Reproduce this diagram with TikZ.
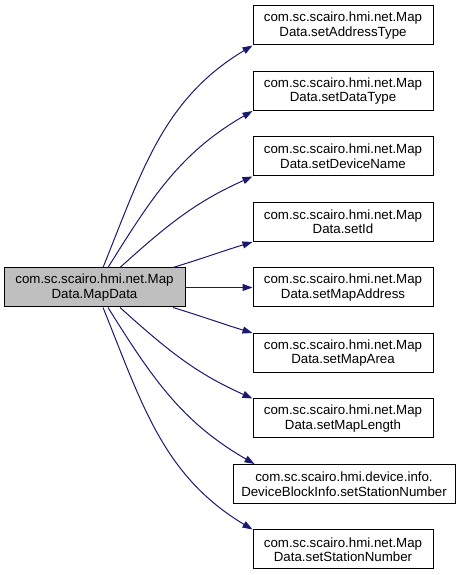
\documentclass[tikz,border=0pt]{standalone}
\usepackage{fontspec}
\setmainfont{Liberation Sans}
\usetikzlibrary{arrows.meta}

\tikzset{
  fnbox/.style={draw=black, fill=white, line width=1pt, minimum width=180pt,
    minimum height=39pt, inner sep=0pt, align=center,
    font=\fontsize{13.3}{14.5}\selectfont},
  callee/.style={draw=edgeColour, line width=1pt,
    -{Triangle[length=10pt,width=7pt,fill=edgeColour]}}
}

\begin{document}
\begin{tikzpicture}[x=1pt, y=1pt]
    % Colours and row spacing
    \definecolor{edgeColour}{HTML}{191970}
    \definecolor{mainFill}{HTML}{BFBFBF}
    \def\rowGap{65.5}

    \useasboundingbox (0,0) rectangle (460,575);

    % Caller
    \node[fnbox, fill=mainFill, minimum width=181pt] (main) at (94.5,287.5)
        {com.sc.scairo.hmi.net.Map\\Data.MapData};

    % Callees of MapData
    \foreach \name/\i/\method in {addr/0/setAddressType, dtype/1/setDataType,
        dname/2/setDeviceName, setid/3/setId, maddr/4/setMapAddress,
        marea/5/setMapArea, mlen/6/setMapLength, stanum/8/setStationNumber}
        \node[fnbox] (\name) at (343,549.5-\i*\rowGap)
            {com.sc.scairo.hmi.net.Map\\Data.\method};

    \node[fnbox, minimum width=222pt] (devsta) at (344,549.5-7*\rowGap)
        {com.sc.scairo.hmi.device.info.\\DeviceBlockInfo.setStationNumber};

    % Upper calls
    \draw[callee] ([xshift=8.5pt]main.north) to[out=68, in=211] (addr.south west);
    \draw[callee] ([xshift=13.5pt]main.north) to[out=58, in=210] (dtype.south west);
    \draw[callee] ([xshift=25.5pt]main.north) to[out=42, in=204] (dname.south west);
    \draw[callee] ([xshift=78.5pt]main.north) to[out=17, in=197] (setid.south west);

    % Straight call
    \draw[callee] (main.east) -- (maddr.west);

    % Lower calls
    \draw[callee] ([xshift=78.5pt]main.south) to[out=-17, in=163] (marea.north west);
    \draw[callee] ([xshift=25.5pt]main.south) to[out=-42, in=156] (mlen.north west);
    \draw[callee] ([xshift=13.5pt]main.south) to[out=-58, in=150] ([xshift=22pt]devsta.north west);
    \draw[callee] ([xshift=8.5pt]main.south) to[out=-68, in=149] (stanum.north west);
\end{tikzpicture}
\end{document}
